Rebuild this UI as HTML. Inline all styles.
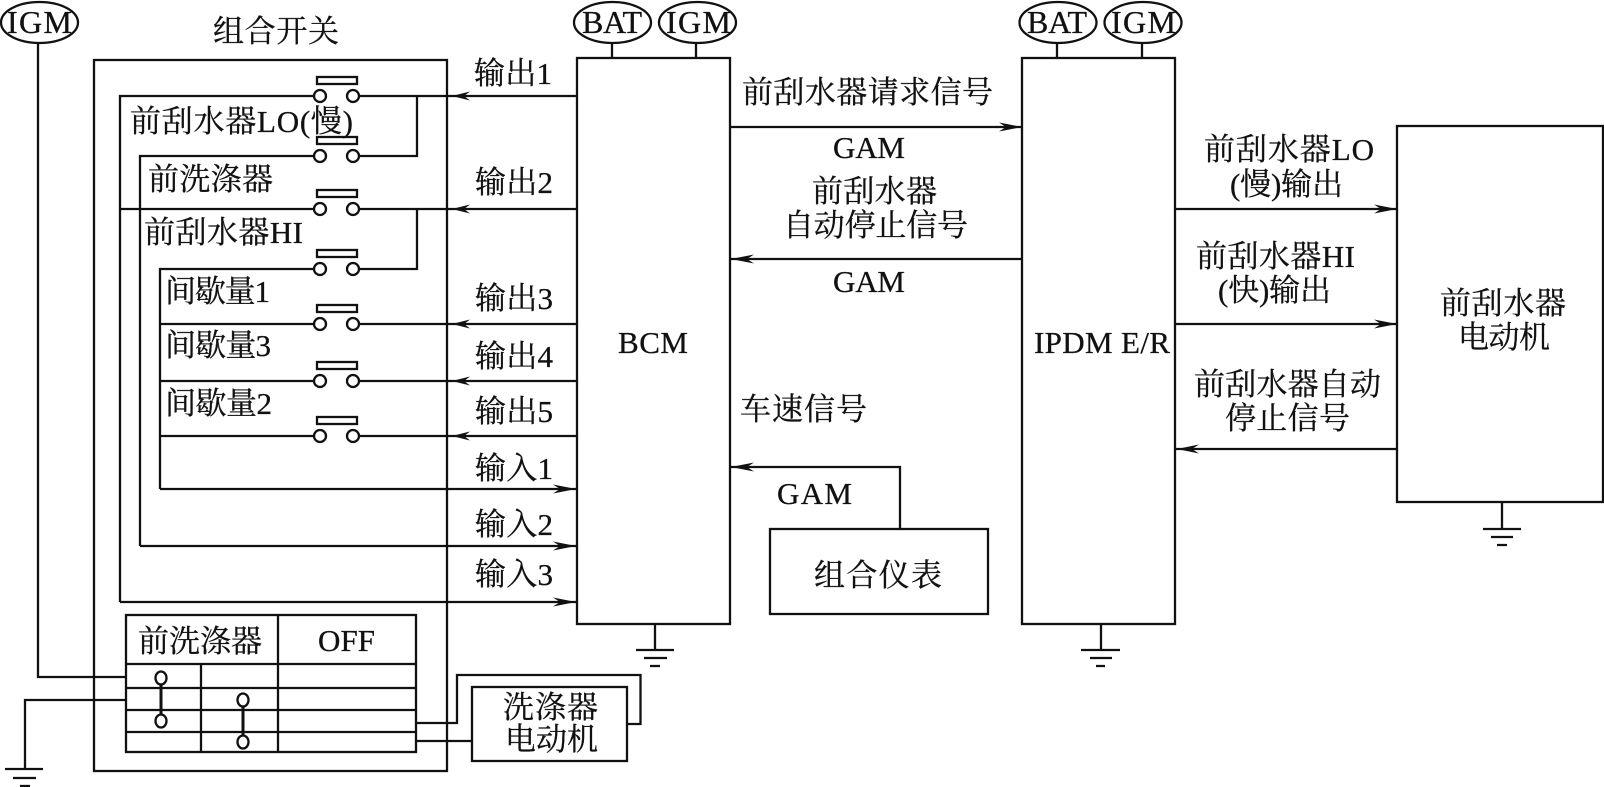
<!DOCTYPE html>
<html lang="zh">
<head>
<meta charset="utf-8">
<title>Wiper diagram</title>
<style>
html,body{margin:0;padding:0;background:#fff;width:1604px;height:787px;overflow:hidden}
svg{display:block}
text{font-family:"Liberation Serif","Noto Serif CJK SC",serif;fill:#111;font-size:31px;stroke:#111;stroke-width:.3}
.l{font-size:32px}
.s{fill:none;stroke:#111;stroke-width:2.3}
.t{fill:none;stroke:#111;stroke-width:3}
.c{fill:#fff;stroke:#111;stroke-width:2.3}
.a{fill:#111;stroke:none}
</style>
</head>
<body>
<svg width="1604" height="787" viewBox="0 0 1604 787" xmlns="http://www.w3.org/2000/svg">
<rect width="1604" height="787" fill="#fff"/>

<!-- Outer boxes -->
<rect class="s" x="94" y="60" width="353" height="711"/>
<rect class="s" x="577" y="58" width="153" height="566"/>
<rect class="s" x="1022" y="58" width="153" height="566"/>
<rect class="s" x="1397" y="126" width="206" height="376"/>
<rect class="s" x="770" y="529" width="218" height="85"/>
<rect class="s" x="472" y="687" width="155" height="74"/>

<!-- Supply ellipses -->
<ellipse class="s" cx="39.500" cy="22.500" rx="38.500" ry="20.500"/>
<ellipse class="s" cx="612.500" cy="22.500" rx="38.500" ry="20.500"/>
<ellipse class="s" cx="697.500" cy="22.500" rx="38.500" ry="20.500"/>
<ellipse class="s" cx="1058" cy="22.500" rx="38.500" ry="20.500"/>
<ellipse class="s" cx="1143" cy="22.500" rx="38.500" ry="20.500"/>
<path class="s" d="M612 43V58M696 43V58M1057 43V58M1142 43V58"/>

<!-- Switch wiring -->
<path class="s" d="M38 43V677H126"/>
<path class="s" d="M120 602V96H314M359 96H577"/>
<path class="s" d="M140 546V156H314M359 156H417V96"/>
<path class="s" d="M120 209H314M359 209H577"/>
<path class="s" d="M160 489V269H314M359 269H417V209"/>
<path class="s" d="M160 324H314M359 324H577"/>
<path class="s" d="M160 381H314M359 381H577"/>
<path class="s" d="M160 436H314M359 436H577"/>
<path class="s" d="M160 489H577M140 546H577M120 602H577"/>

<!-- Switch buttons -->
<rect class="s" x="317" y="77" width="40" height="7"/>
<rect class="s" x="317" y="137" width="40" height="7"/>
<rect class="s" x="317" y="190" width="40" height="7"/>
<rect class="s" x="317" y="250" width="40" height="7"/>
<rect class="s" x="317" y="305" width="40" height="7"/>
<rect class="s" x="317" y="362" width="40" height="7"/>
<rect class="s" x="317" y="417" width="40" height="7"/>
<circle class="c" cx="320" cy="96" r="6"/><circle class="c" cx="353" cy="96" r="6"/>
<circle class="c" cx="320" cy="156" r="6"/><circle class="c" cx="353" cy="156" r="6"/>
<circle class="c" cx="320" cy="209" r="6"/><circle class="c" cx="353" cy="209" r="6"/>
<circle class="c" cx="320" cy="269" r="6"/><circle class="c" cx="353" cy="269" r="6"/>
<circle class="c" cx="320" cy="324" r="6"/><circle class="c" cx="353" cy="324" r="6"/>
<circle class="c" cx="320" cy="381" r="6"/><circle class="c" cx="353" cy="381" r="6"/>
<circle class="c" cx="320" cy="436" r="6"/><circle class="c" cx="353" cy="436" r="6"/>

<!-- Signal wires -->
<path class="s" d="M730 127H1022M1022 259H730M1175 209H1397M1175 324H1397M1397 449H1175"/>
<path class="s" d="M730 467H900V529"/>

<!-- Arrowheads -->
<g class="a">
<path d="M452 96L470 91.500L464 96L470 100.500Z"/>
<path d="M452 209L470 204.500L464 209L470 213.500Z"/>
<path d="M452 324L470 319.500L464 324L470 328.500Z"/>
<path d="M452 381L470 376.500L464 381L470 385.500Z"/>
<path d="M452 436L470 431.500L464 436L470 440.500Z"/>
<path d="M576 489L553 484.500L560 489L553 493.500Z"/>
<path d="M576 546L553 541.500L560 546L553 550.500Z"/>
<path d="M576 602L553 597.500L560 602L553 606.500Z"/>
<path d="M1022 127L999 122.500L1006 127L999 131.500Z"/>
<path d="M731 259L754 254.500L747 259L754 263.500Z"/>
<path d="M1397 209L1374 204.500L1381 209L1374 213.500Z"/>
<path d="M1397 324L1374 319.500L1381 324L1374 328.500Z"/>
<path d="M1177 449L1199 444.500L1192 449L1199 453.500Z"/>
<path d="M731 467L754 462.500L747 467L754 471.500Z"/>
</g>

<!-- Washer table -->
<rect class="s" x="126" y="615" width="290" height="137"/>
<path class="s" d="M126 664H416M126 688H416M126 710H416M126 732H416M278 615V752M201 664V752"/>
<path class="t" d="M161 678V721M243 700V742"/>
<ellipse class="c" cx="161" cy="678" rx="5.500" ry="6.500"/>
<ellipse class="c" cx="161" cy="721" rx="5.500" ry="6.500"/>
<ellipse class="c" cx="243" cy="700" rx="5.500" ry="6.500"/>
<ellipse class="c" cx="243" cy="742" rx="5.500" ry="6.500"/>
<path class="s" d="M126 700H25V769"/>
<path class="s" d="M416 723H457V675H640.500V724H627"/>
<path class="s" d="M416 741H472"/>

<!-- Grounds -->
<path class="s" d="M5 769H43M13 778H36M20 786H30"/>
<path class="s" d="M655 624V650M636 650H674M644 658H667M650 666H660"/>
<path class="s" d="M1101 624V650M1081 650H1120M1090 658H1112M1096 666H1105"/>
<path class="s" d="M1502 502V529M1483 529H1521M1491 537H1513M1497 545H1507"/>

<!-- Ellipse labels -->
<text class="l" x="7" y="33" textLength="65">IGM</text>
<text class="l" x="582" y="33" textLength="60">BAT</text>
<text class="l" x="666" y="33" textLength="65">IGM</text>
<text class="l" x="1027" y="33" textLength="60">BAT</text>
<text class="l" x="1111" y="33" textLength="65">IGM</text>

<!-- Left labels -->
<text x="213" y="42" textLength="126">组合开关</text>
<text x="130" y="132" textLength="223">前刮水器LO(慢)</text>
<text x="148" y="190" textLength="125">前洗涤器</text>
<text x="144" y="243" textLength="159">前刮水器HI</text>
<text x="165" y="302" textLength="105">间歇量1</text>
<text x="165" y="356" textLength="106">间歇量3</text>
<text x="165" y="414" textLength="107">间歇量2</text>

<text x="474" y="84" textLength="78">输出1</text>
<text x="475" y="193" textLength="78">输出2</text>
<text x="475" y="309" textLength="78">输出3</text>
<text x="475" y="367" textLength="78">输出4</text>
<text x="475" y="422" textLength="78">输出5</text>
<text x="475" y="479" textLength="78">输入1</text>
<text x="475" y="535" textLength="78">输入2</text>
<text x="475" y="585" textLength="78">输入3</text>

<!-- Table labels -->
<text x="138" y="652" textLength="124">前洗涤器</text>
<text x="318" y="651" textLength="57">OFF</text>
<text x="503" y="718" textLength="95">洗涤器</text>
<text x="505" y="750" textLength="93">电动机</text>

<!-- Middle labels -->
<text x="742" y="103" textLength="251">前刮水器请求信号</text>
<text x="833" y="158" textLength="72">GAM</text>
<text x="812" y="202" textLength="125">前刮水器</text>
<text x="783" y="236" textLength="185">自动停止信号</text>
<text x="833" y="292" textLength="72">GAM</text>
<text x="618" y="353" textLength="70">BCM</text>
<text x="740" y="420" textLength="127">车速信号</text>
<text x="777" y="504" textLength="75">GAM</text>
<text x="814" y="586" textLength="128">组合仪表</text>

<!-- Right labels -->
<text x="1034" y="353" textLength="136">IPDM E/R</text>
<text x="1204" y="160" textLength="170">前刮水器LO</text>
<text x="1230" y="195" textLength="113">(慢)输出</text>
<text x="1196" y="267" textLength="159">前刮水器HI</text>
<text x="1218" y="301" textLength="113">(快)输出</text>
<text x="1194" y="395" textLength="187">前刮水器自动</text>
<text x="1225" y="429" textLength="125">停止信号</text>
<text x="1440" y="314" textLength="126">前刮水器</text>
<text x="1458" y="348" textLength="92">电动机</text>
</svg>
</body>
</html>
